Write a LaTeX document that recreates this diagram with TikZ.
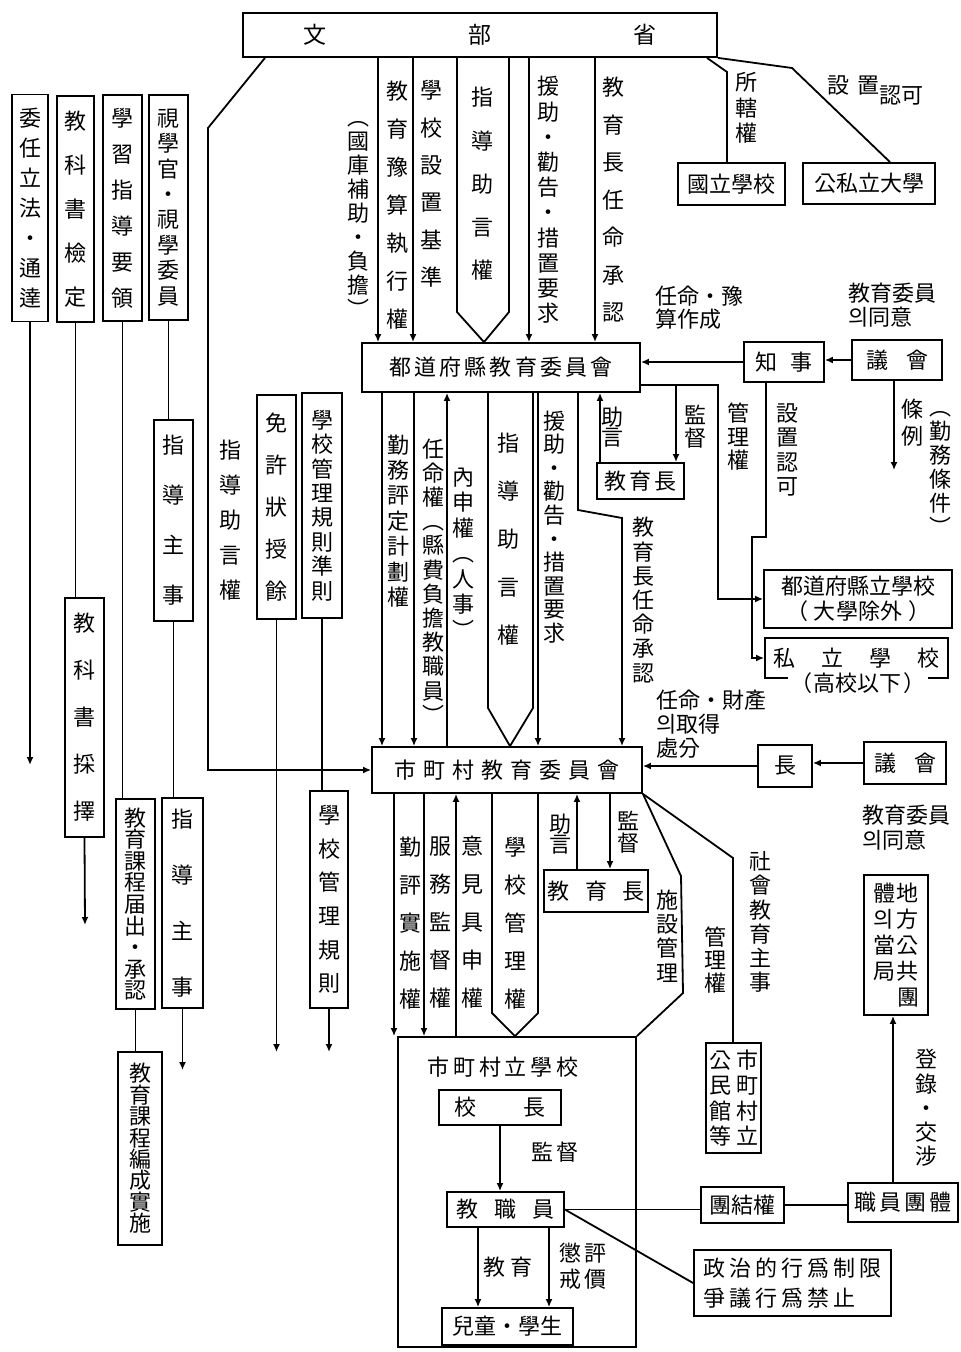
\documentclass[tikz,border=0pt]{standalone}
\usepackage{fontspec}
\newfontfamily\cjk{Noto Sans CJK KR}
\usetikzlibrary{arrows.meta}
\lineskiplimit=-20pt
\tikzset{
  box/.style={draw, line width=0.9pt, inner sep=0pt, align=center,
    font=\cjk\fontsize{11}{13}\selectfont},
  sz/.style 2 args={minimum width=#1*0.5pt, minimum height=#2*0.5pt},
  vt/.style={align=center, inner sep=0pt, font=\cjk\fontsize{11}{#1}\selectfont},
  ht/.style={align=left, inner sep=0pt, font=\cjk\fontsize{11}{#1}\selectfont},
  ls/.style={font=\cjk\fontsize{11}{15}\selectfont\addfontfeature{LetterSpace=#1}},
  wire/.style={line width=0.9pt},
  arrow/.style={-{Latex[length=4pt,width=3.5pt]}, line width=0.9pt},
}

\begin{document}
\begin{tikzpicture}[x=0.5pt, y=-0.5pt]
  \useasboundingbox (0,0) rectangle (960,1352);

  % ministry and the left columns
  \node[box, sz={474}{44}, font=\cjk\fontsize{11.5}{13}\selectfont] (mext) at (480,35)
    {文\hspace{71pt}部\hspace{71pt}省};
  \node[box, sz={36}{227}, vt=15] (order) at (30,208) {委\\任\\立\\法\\・\\通\\達};
  \node[box, sz={37}{226}, vt=22] (textck) at (75.5,209) {教\\科\\書\\檢\\定};
  \node[box, sz={39}{226}, vt=18] (guide) at (122.5,208) {學\\習\\指\\導\\要\\領};
  \node[box, sz={39}{225}, vt=12.7] (inspect) at (168.5,207.5) {視\\學\\官\\・\\視\\學\\委\\員};
  \node[box, sz={39}{239}, vt=23.5] (textsel) at (84.5,717.5) {教\\科\\書\\採\\擇};
  \node[box, sz={39}{210}, vt=10.8] (currep) at (135.5,904) {教\\育\\課\\程\\届\\出\\・\\承\\認};
  \node[box, sz={44}{193}, vt=10.7] (curimp) at (140,1148.5) {教\\育\\課\\程\\編\\成\\實\\施};
  \node[box, sz={39}{201}, vt=25] (supv) at (173.5,520.5) {指\\導\\主\\事};
  \node[box, sz={41}{210}, vt=28] (supvb) at (182.5,903) {指\\導\\主\\事};
  \node[box, sz={39}{224}, vt=21] (licence) at (276.5,507) {免\\許\\狀\\授\\餘};
  \node[box, sz={40}{225}, vt=12.2] (rulestd) at (322,505.5) {學\\校\\管\\理\\規\\則\\準\\則};
  \node[box, sz={38}{217}, vt=16.8] (rules) at (329,899.5) {學\\校\\管\\理\\規\\則};
  \node[vt=17.5] (advleft) at (230,520) {指\\導\\助\\言\\權};

  \coordinate (endorder) at (30,765);
  \coordinate (endsel) at (85,925);
  \coordinate (endsupv) at (183,1070);
  \coordinate (endlic) at (277,1052);
  \coordinate (endrule) at (329,1052);
  \coordinate (endord) at (894,470);

  \draw[arrow] (order.south) -- (order.south |- endorder);
  \draw[wire] (textck.south) -- (textck.south |- textsel.north);
  \draw[arrow] (textsel.south) -- (endsel);
  \draw[wire] (guide.south) -- (guide.south |- currep.north);
  \draw[wire] (currep.south) -- (currep.south |- curimp.north);
  \draw[wire] (inspect.south) -- (inspect.south |- supv.north);
  \draw[wire] (supv.south) -- (supv.south |- supvb.north);
  \draw[arrow] (supvb.south) -- (supvb.south |- endsupv);
  \draw[arrow] (licence.south) -- (licence.south |- endlic);
  \draw[wire] (rulestd.south) -- (rulestd.south |- rules.north);
  \draw[arrow] (rules.south) -- (rules.south |- endrule);

  % national schools and universities
  \node[box, sz={107}{42}] (natsch) at (731.5,184) {國立學校};
  \node[box, sz={132}{41}] (univ) at (869,183.5) {公私立大學};
  \node[vt=12.75] (juris) at (746,108) {所\\轄\\權};
  \node[font=\cjk\fontsize{11}{13}\selectfont] (estab) at (875,90)
    {設\hspace{4pt}置\raisebox{-5pt}{認可}};
  \draw[wire] (707,0 |- mext.south) -- (727,72) -- (727,0 |- natsch.north);
  \draw[wire] (mext.south east) -- (792,68) -- (890,0 |- univ.north);

  % prefecture
  \node[box, sz={278}{49}, ls=14] (pboard) at (501,367.5) {都道府縣教育委員會};
  \node[box, sz={80}{40}] (gov) at (784,362) {知\hspace{6.5pt}事};
  \node[box, sz={90}{40}] (passm) at (897,360) {議\hspace{9pt}會};
  \node[box, sz={87}{36}, ls=14] (psup) at (640.5,481) {教育長};
  \node[box, sz={188}{58}, font=\cjk\fontsize{11}{12.5}\selectfont] (pschool) at (858,599)
    {都道府縣立學校\\（\hspace{3pt}大學除外\hspace{3pt}）};
  \node[box, sz={183}{40}] (priv) at (856.5,658) {私\hspace{13pt}立\hspace{13pt}學\hspace{13pt}校};
  \node[fill=white, inner sep=1pt, font=\cjk\fontsize{11}{13}\selectfont] (privlow) at (858,683)
    {（\hspace{1pt}高校以下\hspace{1pt}）};

  \node[vt=12] (subsidy) at (358,219) {︵\\國\\庫\\補\\助\\・\\負\\擔\\︶};
  \node[vt=19] (budget) at (397,205) {教\\育\\豫\\算\\執\\行\\權};
  \node[vt=18.7] (stdset) at (431,184) {學\\校\\設\\置\\基\\準};
  \node[vt=21.6] (advtop) at (482,184) {指\\導\\助\\言\\權};
  \node[vt=12.6] (aidtop) at (548,200) {援\\助\\・\\勸\\告\\・\\措\\置\\要\\求};
  \node[vt=18.75] (apprtop) at (613,200) {教\\育\\長\\任\\命\\承\\認};
  \node[ht=11.5, anchor=west] (apptbud) at (655,308) {任命・豫\\算作成};
  \node[ht=12, anchor=west] (consent) at (848,305) {教育委員\\의同意};

  \draw[arrow] (378,0 |- mext.south) -- (378,0 |- pboard.north);
  \draw[arrow] (413,0 |- mext.south) -- (413,0 |- pboard.north);
  \draw[wire] (457,0 |- mext.south) -- (457,312) -- (484,0 |- pboard.north) -- (509,312) -- (509,0 |- mext.south);
  \draw[arrow] (529,0 |- mext.south) -- (529,0 |- pboard.north);
  \draw[arrow] (595,0 |- mext.south) -- (595,0 |- pboard.north);

  \coordinate (pcorner) at ([yshift=4pt]pboard.south east);
  \draw[arrow] (gov.west) -- (pboard.east |- gov.west);
  \draw[arrow] (passm.west) -- (gov.east |- passm.west);
  \draw[arrow] (passm.south -| endord) -- (endord);
  \draw[arrow] (766,0 |- gov.south) -- (766,537) -- (752,537) -- (752,0 |- priv.west) -- (priv.west);
  \draw[arrow] (pcorner) -- (718,0 |- pcorner) -- (718,0 |- pschool.west) -- (pschool.west);
  \draw[arrow] (pcorner) -- (676,0 |- pcorner) -- (676,0 |- psup.north);
  \draw[arrow] (600,0 |- psup.north) -- (600,0 |- pboard.south);

  \node[vt=10] (advp) at (612,427) {助\\言};
  \node[vt=11.5] (supvp) at (695,427) {監\\督};
  \node[vt=11.75] (mgmtp) at (738,437) {管\\理\\權};
  \node[vt=12.3] (estabp) at (787,450) {設\\置\\認\\可};
  \node[vt=13.5] (ordin) at (912,423) {條\\例};
  \node[vt=12] (work) at (940,473) {︵\\勤\\務\\條\\件\\︶};

  \node[vt=12.7] (evalplan) at (398,521) {勤\\務\\評\\定\\計\\劃\\權};
  \node[vt=12.1] (appoint) at (433,581) {任\\命\\權\\︵\\縣\\費\\負\\擔\\教\\職\\員\\︶};
  \node[vt=12.75] (report) at (463,553) {內\\申\\權\\︵\\人\\事\\︶};
  \node[vt=24] (advmid) at (508,539) {指\\導\\助\\言\\權};
  \node[vt=11.8] (aidmid) at (554,527) {援\\助\\・\\勸\\告\\・\\措\\置\\要\\求};
  \node[vt=12.1] (apprmid) at (643,600) {教\\育\\長\\任\\命\\承\\認};

  % municipality
  \node[box, sz={270}{46}, ls=32] (mboard) at (507,770) {市町村教育委員會};
  \node[box, sz={54}{42}] (mayor) at (785,766) {長};
  \node[box, sz={82}{42}] (massm) at (905,763) {議\hspace{9pt}會};
  \node[box, sz={104}{42}] (msup) at (596,891) {教\hspace{8pt}育\hspace{8pt}長};
  \node[ht=12, anchor=west] (apptprop) at (656,724) {任命・財產\\의取得\\處分};
  \node[ht=12.5, anchor=west] (consentm) at (862,828) {教育委員\\의同意};

  \draw[arrow] (265,0 |- mext.south) -- (208,128) -- (208,0 |- mboard.west) -- (mboard.west);
  \draw[arrow] (382,0 |- pboard.south) -- (382,0 |- mboard.north);
  \draw[arrow] (414,0 |- pboard.south) -- (414,0 |- mboard.north);
  \draw[arrow] (447,0 |- mboard.north) -- (447,0 |- pboard.south);
  \draw[wire] (488,0 |- pboard.south) -- (488,708) -- (510,0 |- mboard.north) -- (533,708) -- (533,0 |- pboard.south);
  \draw[arrow] (538,0 |- pboard.south) -- (538,0 |- mboard.north);
  \draw[arrow] (578,0 |- pboard.south) -- (578,510) -- (622,518) -- (622,0 |- mboard.north);
  \draw[arrow] (mayor.west) -- (mboard.east |- mayor.west);
  \draw[arrow] (massm.west) -- (mayor.east |- massm.west);

  % municipal schools
  \node[box, sz={238}{310}] (msch) at (517,1192) {};
  \node[ls=18] (mschlab) at (503,1067) {市町村立學校};
  \node[box, sz={122}{35}] (prin) at (500,1107.5) {校\hspace{24pt}長};
  \node[box, sz={117}{35}] (staff) at (505.5,1209.5) {教\hspace{8pt}職\hspace{8pt}員};
  \node[box, sz={131}{37}] (stud) at (507.5,1326.5) {兒童・學生};
  \node[ls=18] (supvs) at (555,1152) {監督};
  \node[ls=27] (educ) at (508,1267) {教育};
  \node[vt=13] (evals) at (583,1266) {懲\hspace{1.5pt}評\\戒\hspace{1.5pt}價};
  \node[box, sz={55}{110}, vt=12.8] (hall) at (733.5,1098)
    {公\hspace{2.5pt}市\\民\hspace{2.5pt}町\\館\hspace{2.5pt}村\\等\hspace{2.5pt}立};
  \node[box, sz={64}{140}, vt=13] (local) at (896,945)
    {體\hspace{1pt}地\\의\hspace{1pt}方\\當\hspace{1pt}公\\局\hspace{1pt}共\\\hphantom{體}\hspace{1pt}團};
  \node[box, sz={83}{36}] (unionr) at (742.5,1205) {團結權};
  \node[box, sz={110}{39}, ls=14] (union) at (903,1202.5) {職員團體};
  \node[box, sz={197}{66}, align=left, ls=18] (polit) at (792.5,1283)
    {政治的行爲制限\\爭議行爲禁止};

  \node[vt=19] (evalimp) at (410,923) {勤\\評\\實\\施\\權};
  \node[vt=19] (service) at (440,923) {服\\務\\監\\督\\權};
  \node[vt=19] (opinion) at (472,922) {意\\見\\具\\申\\權};
  \node[vt=19] (schmgmt) at (515,923) {學\\校\\管\\理\\權};
  \node[vt=10] (advm) at (560,834) {助\\言};
  \node[vt=11] (supvm) at (628,832) {監\\督};
  \node[vt=12.2] (facil) at (667,936) {施\\設\\管\\理};
  \node[vt=11.5] (mgmtm) at (715,960) {管\\理\\權};
  \node[vt=12.1] (soced) at (760,922) {社\\會\\教\\育\\主\\事};
  \node[vt=12.1] (nego) at (926,1108) {登\\錄\\・\\交\\涉};

  \draw[arrow] (394,0 |- mboard.south) -- (394,0 |- msch.north);
  \draw[arrow] (424,0 |- mboard.south) -- (424,0 |- msch.north);
  \draw[arrow] (456,0 |- msch.north) -- (456,0 |- mboard.south);
  \draw[wire] (492,0 |- mboard.south) -- (492,1013) -- (515,0 |- msch.north) -- (538,1013) -- (538,0 |- mboard.south);
  \draw[arrow] (577,0 |- msup.north) -- (577,0 |- mboard.south);
  \draw[arrow] (610,0 |- mboard.south) -- (610,0 |- msup.north);
  \draw[wire] (mboard.south east) -- (681,876) -- (683,993) -- (msch.north east);
  \draw[wire] (mboard.south east) -- (733,858) -- (733,0 |- hall.north);
  \draw[arrow] (893,0 |- union.north) -- (893,0 |- local.south);
  \draw[arrow] (prin.south) -- (prin.south |- staff.north);
  \draw[arrow] (478,0 |- staff.south) -- (478,0 |- stud.north);
  \draw[arrow] (549,0 |- staff.south) -- (549,0 |- stud.north);
  \draw[wire] (staff.east) -- (staff.east -| unionr.west);
  \draw[wire] (unionr.east) -- (unionr.east -| union.west);
  \draw[wire] (staff.east) -- (polit.west);
\end{tikzpicture}
\end{document}
